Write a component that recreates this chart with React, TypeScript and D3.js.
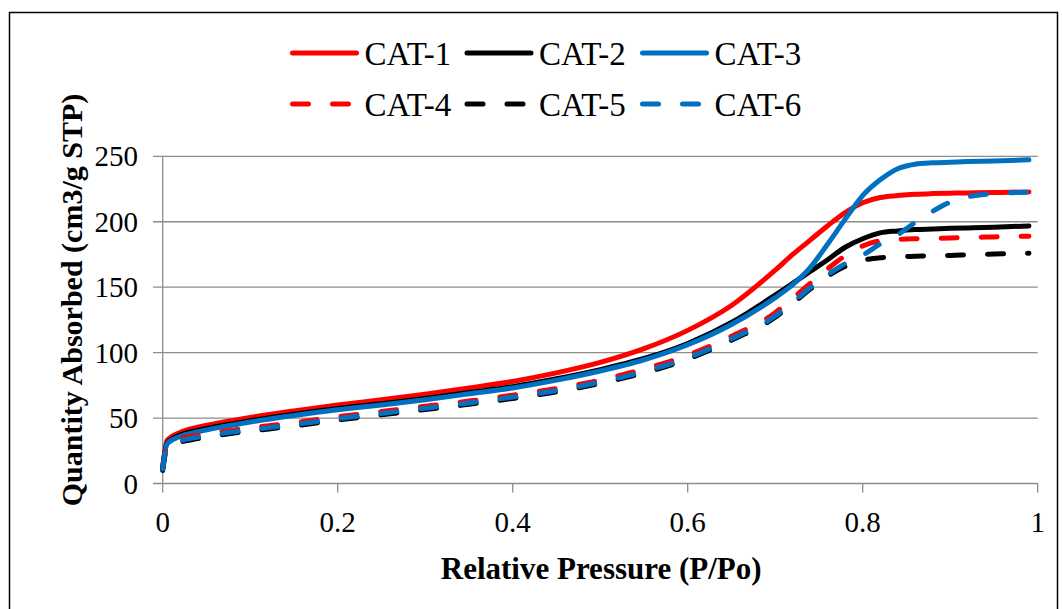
import React from "react";
import * as d3 from "d3";

// Relative pressure (P/Po) sample points shared by every isotherm
const pressure = [
  0, 0.005, 0.02, 0.04, 0.07, 0.1, 0.15, 0.2, 0.25, 0.3, 0.35, 0.4, 0.45, 0.5, 0.55, 0.6, 0.65, 0.7,
  0.72, 0.74, 0.76, 0.78, 0.8, 0.82, 0.84, 0.86, 0.88, 0.9, 0.92, 0.95, 0.99,
];

// Quantity absorbed (cm3/g STP) for each catalyst
const cat1 = [
  12, 33, 39, 43, 47, 50.5, 55.5, 60, 64, 68.3, 73, 78, 84.5, 92.5, 103, 117, 136, 163,
  175, 186, 197, 207, 214.5, 218.5, 220, 221, 221.5, 221.8, 222, 222.3, 222.8,
];
const cat2 = [
  12, 31, 37, 40.5, 44.5, 48, 53, 57.3, 61, 65, 69.5, 74, 80, 87, 95.5, 107, 123, 144,
  153, 162, 171, 180.5, 187, 191.5, 193, 194, 194.5, 195, 195.3, 195.8, 196.8,
];
const cat3 = [
  11, 30.5, 36, 39.5, 43.5, 47, 52, 56.3, 60, 64, 68.5, 73, 79, 86, 94.5, 106, 121.5, 142,
  152, 165, 183, 202, 220, 232, 240.5, 244, 245, 245.5, 246, 246.5, 247.3,
];
const cat4 = [
  12, 29, 34, 36.8, 40, 42.5, 46.5, 51, 55, 59, 63, 67.5, 72.5, 79, 87.5, 98, 112.5, 130.5,
  141.5, 153, 164, 174, 181.5, 185.5, 186.5, 187, 187.3, 187.6, 188, 188.4, 189,
];
const cat5 = [
  10, 27, 31.5, 34.3, 37.5, 40, 44, 48.5, 52.5, 56.5, 60.5, 65, 70, 76.5, 84.5, 95, 109.5, 127,
  137.5, 148.5, 158.5, 166, 170.5, 172.5, 173.2, 173.6, 174, 174.3, 174.7, 175.3, 176,
];
const cat6 = [
  11, 28, 32.5, 35.3, 38.5, 41, 45, 49.5, 53.5, 57.5, 61.5, 66, 71, 77.5, 85.5, 96, 110.5, 128,
  138.5, 149.5, 159.5, 168, 174.5, 183, 190, 199.5, 208, 215, 219, 221.5, 222.6,
];

const seriesNames = ["CAT-1", "CAT-2", "CAT-3", "CAT-4", "CAT-5", "CAT-6"];
const seriesValues = [cat1, cat2, cat3, cat4, cat5, cat6];

const xTicks = [0, 0.2, 0.4, 0.6, 0.8, 1];
const yTicks = [0, 50, 100, 150, 200, 250];

const xTitle = "Relative Pressure (P/Po)";
const yTitle = "Quantity Absorbed (cm3/g STP)";

const RED = "#FF0000";
const BLACK = "#000000";
const BLUE = "#0070C0";
const seriesColors = [RED, BLACK, BLUE, RED, BLACK, BLUE];
const seriesDashed = [false, false, false, true, true, true];

const FONT = '"Liberation Serif", "Times New Roman", Times, serif';
const GRID = "#8c8c8c";

export default function App() {
  const W = 1062;
  const H = 609;
  const left = 162.7;
  const right = 1037.7;
  const top = 156.3;
  const bottom = 483.5;

  const x = d3.scaleLinear().domain([0, 1]).range([left, right]);
  const y = d3.scaleLinear().domain([0, 250]).range([bottom, top]);

  const line = d3
    .line<[number, number]>()
    .x((d) => x(d[0]))
    .y((d) => y(d[1]))
    .curve(d3.curveMonotoneX);

  const dash = "16 24";

  // legend layout: two rows of three entries
  const legendCols = [292.5, 467, 642.5];
  const legendRows = [53, 104];
  const legendLineLen = 64;

  return (
    <svg
      width={W}
      height={H}
      style={{ position: "absolute", left: 0, top: 0, fontFamily: FONT }}
    >
      <rect x={0} y={0} width={W} height={H} fill="#fff" />
      <rect x={9.5} y={12.5} width={1048} height={620} fill="#fff" stroke="#000" strokeWidth={1.5} />

      {/* horizontal gridlines with left tick marks */}
      {yTicks.map((t) => (
        <line key={"g" + t} x1={153} x2={right} y1={y(t)} y2={y(t)} stroke={GRID} strokeWidth={1.3} />
      ))}
      {/* y axis */}
      <line x1={left} x2={left} y1={top} y2={bottom} stroke={GRID} strokeWidth={1.3} />
      {/* x tick marks */}
      {xTicks.map((t) => (
        <line key={"xt" + t} x1={x(t)} x2={x(t)} y1={bottom} y2={bottom + 9} stroke={GRID} strokeWidth={1.3} />
      ))}

      {/* y tick labels */}
      {yTicks.map((t) => (
        <text key={"yl" + t} x={138} y={y(t) + 10} textAnchor="end" fontSize={29} fill="#000">
          {t}
        </text>
      ))}
      {/* x tick labels */}
      {xTicks.map((t) => (
        <text key={"xl" + t} x={x(t)} y={532} textAnchor="middle" fontSize={29} fill="#000">
          {t}
        </text>
      ))}

      {/* axis titles */}
      <text x={(left + right) / 2 + 1} y={579} textAnchor="middle" fontSize={31} fontWeight="bold" fill="#000">
        {xTitle}
      </text>
      <text
        transform={`translate(82, 300) rotate(-90)`}
        textAnchor="middle"
        fontSize={30}
        fontWeight="bold"
        fill="#000"
      >
        {yTitle}
      </text>

      {/* isotherms */}
      {seriesValues.map((vals, i) => {
        const pts = pressure.map((p, j) => [p, vals[j]] as [number, number]);
        return (
          <path
            key={seriesNames[i]}
            d={line(pts) || ""}
            fill="none"
            stroke={seriesColors[i]}
            strokeWidth={5}
            strokeLinecap="round"
            strokeLinejoin="round"
            strokeDasharray={seriesDashed[i] ? dash : undefined}
          />
        );
      })}

      {/* legend */}
      {seriesNames.map((name, i) => {
        const lx = legendCols[i % 3];
        const ly = legendRows[Math.floor(i / 3)];
        return (
          <g key={"lg" + name}>
            <line
              x1={lx}
              x2={lx + legendLineLen}
              y1={ly}
              y2={ly}
              stroke={seriesColors[i]}
              strokeWidth={5}
              strokeLinecap="round"
              strokeDasharray={seriesDashed[i] ? dash : undefined}
            />
            <text x={lx + legendLineLen + 8} y={ly + 11.5} fontSize={33} fill="#000">
              {name}
            </text>
          </g>
        );
      })}
    </svg>
  );
}
